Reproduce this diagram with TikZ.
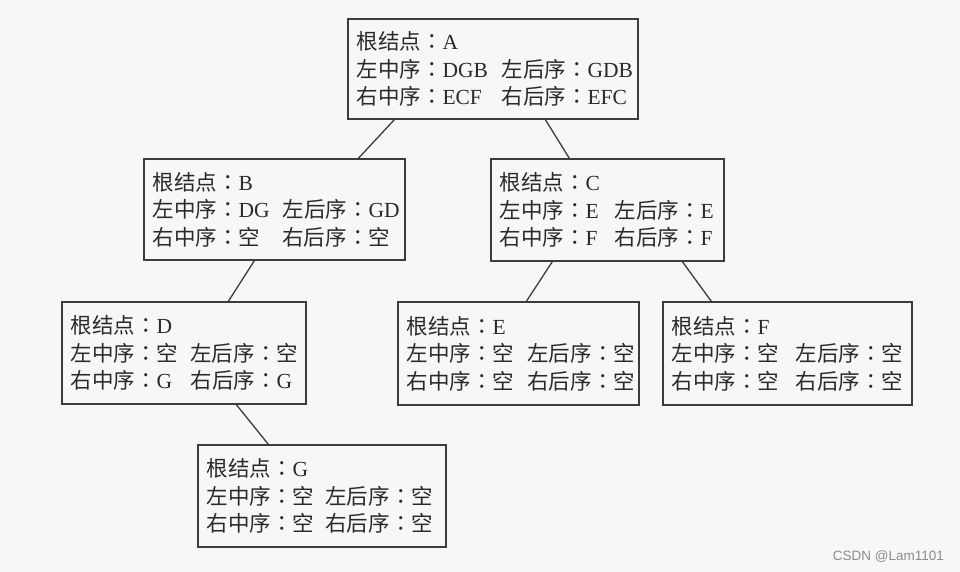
\documentclass[tikz,border=0pt]{standalone}
\usepackage{fontspec}
\setmainfont{Liberation Serif}
\setsansfont{Liberation Sans}
\newfontfamily\zh{Noto Sans CJK SC}
\newfontfamily\zhcolon{Noto Sans CJK TC}
\usetikzlibrary{calc}
\definecolor{bg}{HTML}{F7F7F7}
\definecolor{ink}{HTML}{2A2A2A}
\definecolor{edge}{HTML}{3C3C3C}
\newcommand\zhs[1]{{\zh #1}{\zhcolon ：}}
\newcommand\tworow[3]{\mbox{\makebox[#1][l]{#2}#3}}
\tikzset{
  infobox/.style={draw=edge, line width=1.3pt, rectangle, inner xsep=8.5pt, inner ysep=0pt,
    align=left, text=ink, font=\fontsize{21.5}{27.5}\selectfont},
  link/.style={draw=edge, line width=1.3pt},
}
\begin{document}
\begin{tikzpicture}[x=1pt,y=-1pt]
\fill[bg] (0,0) rectangle (960,572);
\useasboundingbox (0,0) rectangle (960,572);

\node[infobox, text width=273pt, minimum height=100pt] (A) at (493,69)
  {\mbox{\zhs{根结点}A}\\
   \tworow{145pt}{\zhs{左中序}DGB}{\zhs{左后序}GDB}\\
   \tworow{145pt}{\zhs{右中序}ECF}{\zhs{右后序}EFC}};

\node[infobox, text width=244pt, minimum height=101pt] (B) at (274.5,209.5)
  {\mbox{\zhs{根结点}B}\\
   \tworow{130pt}{\zhs{左中序}DG}{\zhs{左后序}GD}\\
   \tworow{130pt}{\zhs{右中序}{\zh 空}}{\zhs{右后序}{\zh 空}}};

\node[infobox, text width=216pt, minimum height=102pt] (C) at (607.5,210)
  {\mbox{\zhs{根结点}C}\\
   \tworow{115pt}{\zhs{左中序}E}{\zhs{左后序}E}\\
   \tworow{115pt}{\zhs{右中序}F}{\zhs{右后序}F}};

\node[infobox, text width=227pt, minimum height=102pt] (D) at (184,353)
  {\mbox{\zhs{根结点}D}\\
   \tworow{120pt}{\zhs{左中序}{\zh 空}}{\zhs{左后序}{\zh 空}}\\
   \tworow{120pt}{\zhs{右中序}G}{\zhs{右后序}G}};

\node[infobox, text width=224pt, minimum height=103pt] (E) at (518.5,353.5)
  {\mbox{\zhs{根结点}E}\\
   \tworow{121pt}{\zhs{左中序}{\zh 空}}{\zhs{左后序}{\zh 空}}\\
   \tworow{121pt}{\zhs{右中序}{\zh 空}}{\zhs{右后序}{\zh 空}}};

\node[infobox, text width=232pt, minimum height=103pt] (F) at (787.5,353.5)
  {\mbox{\zhs{根结点}F}\\
   \tworow{124pt}{\zhs{左中序}{\zh 空}}{\zhs{左后序}{\zh 空}}\\
   \tworow{124pt}{\zhs{右中序}{\zh 空}}{\zhs{右后序}{\zh 空}}};

\node[infobox, text width=231pt, minimum height=102pt] (G) at (322,496)
  {\mbox{\zhs{根结点}G}\\
   \tworow{119pt}{\zhs{左中序}{\zh 空}}{\zhs{左后序}{\zh 空}}\\
   \tworow{119pt}{\zhs{右中序}{\zh 空}}{\zhs{右后序}{\zh 空}}};

\draw[link] ($(A.south west)+(47,0)$) -- ($(B.north west)+(215,0)$);
\draw[link] ($(A.south west)+(198,0)$) -- ($(C.north west)+(79,0)$);
\draw[link] ($(B.south west)+(111,0)$) -- ($(D.north west)+(167,0)$);
\draw[link] ($(C.south west)+(62,0)$) -- ($(E.north west)+(129,0)$);
\draw[link] ($(C.south west)+(192,0)$) -- ($(F.north west)+(49,0)$);
\draw[link] ($(D.south west)+(175,0)$) -- ($(G.north west)+(71,0)$);

\node[anchor=east, text=black!45, font=\sffamily\fontsize{13.5}{16}\selectfont, inner sep=0pt] (wm) at (944,557) {CSDN @Lam1101};
\end{tikzpicture}
\end{document}
